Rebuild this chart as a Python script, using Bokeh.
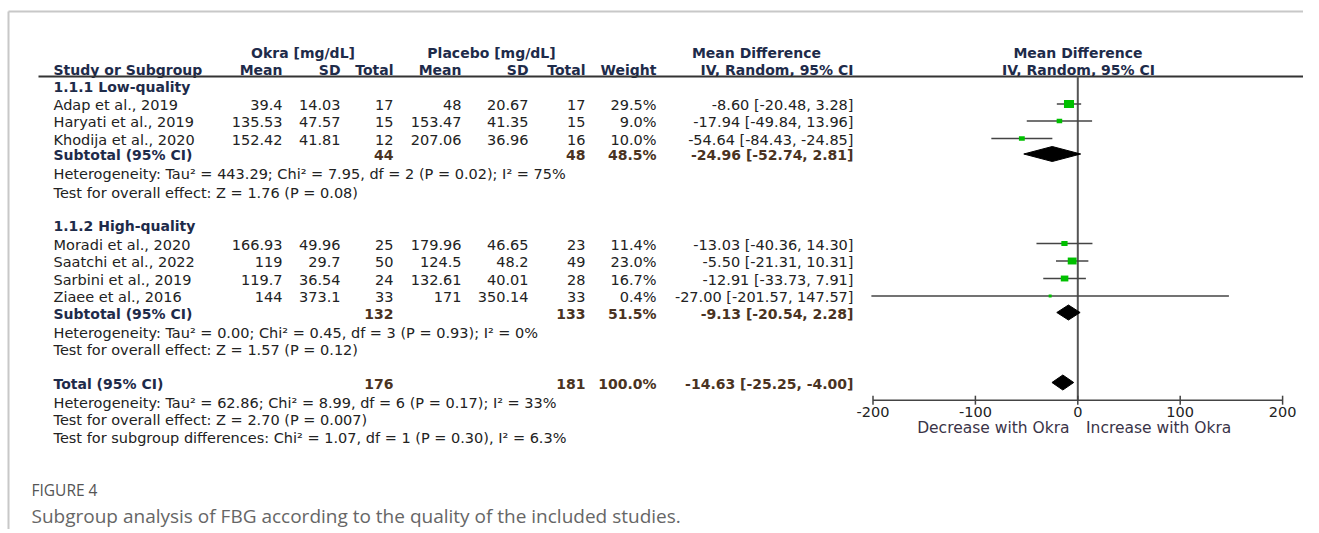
from math import sqrt
from bokeh.plotting import figure
from bokeh.models import Range1d, ColumnDataSource
from bokeh.core.properties import value
from bokeh.embed import file_html
from bokeh.resources import INLINE

# ---------------- data ----------------
studies = ["Adap et al., 2019", "Haryati et al., 2019", "Khodija et al., 2020",
           "Moradi et al., 2020", "Saatchi et al., 2022", "Sarbini et al., 2019", "Ziaee et al., 2016"]
okra_mean = [39.4, 135.53, 152.42, 166.93, 119, 119.7, 144]
okra_sd = [14.03, 47.57, 41.81, 49.96, 29.7, 36.54, 373.1]
okra_n = [17, 15, 12, 25, 50, 24, 33]
plc_mean = [48, 153.47, 207.06, 179.96, 124.5, 132.61, 171]
plc_sd = [20.67, 41.35, 36.96, 46.65, 48.2, 40.01, 350.14]
plc_n = [17, 15, 16, 23, 49, 28, 33]
weight = [29.5, 9.0, 10.0, 11.4, 23.0, 16.7, 0.4]
md = [-8.60, -17.94, -54.64, -13.03, -5.50, -12.91, -27.00]
md_lo = [-20.48, -49.84, -84.43, -40.36, -21.31, -33.73, -201.57]
md_hi = [3.28, 13.96, -24.85, 14.30, 10.31, 7.91, 147.57]

sections = ["1.1.1 Low-quality", "1.1.2 High-quality"]
sub_names = ["Subtotal (95% CI)", "Subtotal (95% CI)", "Total (95% CI)"]
sub_okra_n = [44, 132, 176]
sub_plc_n = [48, 133, 181]
sub_weight = [48.5, 51.5, 100.0]
sub_md = [-24.96, -9.13, -14.63]
sub_lo = [-52.74, -20.54, -25.25]
sub_hi = [2.81, 2.28, -4.00]
het_text = ["Heterogeneity: Tau\u00b2 = 443.29; Chi\u00b2 = 7.95, df = 2 (P = 0.02); I\u00b2 = 75%",
            "Heterogeneity: Tau\u00b2 = 0.00; Chi\u00b2 = 0.45, df = 3 (P = 0.93); I\u00b2 = 0%",
            "Heterogeneity: Tau\u00b2 = 62.86; Chi\u00b2 = 8.99, df = 6 (P = 0.17); I\u00b2 = 33%"]
overall_text = ["Test for overall effect: Z = 1.76 (P = 0.08)",
                "Test for overall effect: Z = 1.57 (P = 0.12)",
                "Test for overall effect: Z = 2.70 (P = 0.007)"]
subgroup_text = "Test for subgroup differences: Chi\u00b2 = 1.07, df = 1 (P = 0.30), I\u00b2 = 6.3%"
axis_ticks = [-200, -100, 0, 100, 200]
axis_left_label = "Decrease with Okra"
axis_right_label = "Increase with Okra"
fig_label = "FIGURE 4"
caption = "Subgroup analysis of FBG according to the quality of the included studies."

# ---------------- layout (page pixel positions) ----------------
O = 1                      # observed page position of the canvas origin
W, H = 1303, 529
study_y = [104.5, 121.5, 139, 244, 261.5, 279, 296.5]
section_y = [86, 225]
sub_y = [154.5, 313, 383]
het_y = [173, 332, 402]
overall_y = [192, 349, 419]
subgroup_y = 437
TXT_DY = 1.0

X_NAME = 54
X_OM, X_OSD, X_ON = 283, 341, 394
X_PM, X_PSD, X_PN = 462, 529, 586
X_W, X_CI = 657, 854
MD_ZERO_PX, MD_SCALE = 1078.3, 1.024
AXIS_Y = 400.7

REG = value("DejaVu Sans")
NAVY = "#1e2b4a"
SUBC = "#4a3322"
TEXT = "#222222"

p = figure(width=W, height=H, output_backend="svg", toolbar_location=None,
           x_range=Range1d(O, O + W), y_range=Range1d(O + H, O),
           x_axis_location=None, y_axis_location=None, min_border=0)
p.outline_line_color = None
p.grid.visible = False
p.background_fill_color = "white"
p.extra_x_ranges = {"md": Range1d((O - MD_ZERO_PX) / MD_SCALE, (O + W - MD_ZERO_PX) / MD_SCALE)}


def txt(xs, ys, texts, align="left", bold=False, color=TEXT, size="14.5px", font=REG):
    src = ColumnDataSource(dict(x=list(xs), y=[y + TXT_DY for y in ys], t=list(texts)))
    p.text(x="x", y="y", text="t", source=src, text_align=align, text_baseline="middle",
           text_font=font, text_font_size=size, text_color=color,
           text_font_style="bold" if bold else "normal")


def g(v):
    return f"{v:g}"


# frame lines
p.segment(x0=[9, 9], y0=[12, 12], x1=[O + W, 9], y1=[12, O + H], line_color="#c8c8c8", line_width=2)

# headers
BS = "14px"
txt([303.5, 492], [52, 52], ["Okra [mg/dL]", "Placebo [mg/dL]"], align="center", bold=True, color=NAVY, size=BS)
txt([757, 1078.5], [52, 52], ["Mean Difference", "Mean Difference"], align="center", bold=True, color=NAVY, size=BS)
txt([X_NAME], [69], ["Study or Subgroup"], bold=True, color=NAVY, size=BS)
txt([X_OM, X_OSD, X_ON, X_PM, X_PSD, X_PN, X_W, X_CI], [69] * 8,
    ["Mean", "SD", "Total", "Mean", "SD", "Total", "Weight", "IV, Random, 95% CI"],
    align="right", bold=True, color=NAVY, size=BS)
txt([1079], [69], ["IV, Random, 95% CI"], align="center", bold=True, color=NAVY, size=BS)
p.segment(x0=[39], y0=[77], x1=[O + W], y1=[77], line_color="#333333", line_width=2)

# section headers
txt([X_NAME] * 2, section_y, sections, bold=True, color=NAVY, size=BS)

# study rows
txt([X_NAME] * 7, study_y, studies)
txt([X_OM] * 7, study_y, [g(v) for v in okra_mean], align="right")
txt([X_OSD] * 7, study_y, [g(v) for v in okra_sd], align="right")
txt([X_ON] * 7, study_y, [str(v) for v in okra_n], align="right")
txt([X_PM] * 7, study_y, [g(v) for v in plc_mean], align="right")
txt([X_PSD] * 7, study_y, [g(v) for v in plc_sd], align="right")
txt([X_PN] * 7, study_y, [str(v) for v in plc_n], align="right")
txt([X_W] * 7, study_y, [f"{v:.1f}%" for v in weight], align="right")
txt([X_CI] * 7, study_y, [f"{m:.2f} [{a:.2f}, {b:.2f}]" for m, a, b in zip(md, md_lo, md_hi)], align="right")

# subtotal rows
txt([X_NAME] * 3, sub_y, sub_names, bold=True, color=NAVY, size=BS)
txt([X_ON] * 3, sub_y, [str(v) for v in sub_okra_n], align="right", bold=True, color=SUBC, size=BS)
txt([X_PN] * 3, sub_y, [str(v) for v in sub_plc_n], align="right", bold=True, color=SUBC, size=BS)
txt([X_W] * 3, sub_y, [f"{v:.1f}%" for v in sub_weight], align="right", bold=True, color=SUBC, size=BS)
txt([X_CI] * 3, sub_y, [f"{m:.2f} [{a:.2f}, {b:.2f}]" for m, a, b in zip(sub_md, sub_lo, sub_hi)],
    align="right", bold=True, color=SUBC, size=BS)

# statistics lines
txt([X_NAME] * 3, het_y, het_text)
txt([X_NAME] * 3, overall_y, overall_text)
txt([X_NAME], [subgroup_y], [subgroup_text])

# ---------------- forest plot ----------------
p.segment(x0=[0], y0=[77], x1=[0], y1=[AXIS_Y], x_range_name="md", line_color="#555555", line_width=2)
p.segment(x0=md_lo, y0=study_y, x1=md_hi, y1=study_y, x_range_name="md", line_color="#444444", line_width=1.5)
sq_w = [max(3.0, 1.85 * sqrt(w)) for w in weight]
sq_h = [max(3.0, 0.78 * s) for s in sq_w]
p.rect(x=md, y=study_y, width=sq_w, height=sq_h, width_units="screen", height_units="screen",
       x_range_name="md", fill_color="#00c000", line_color=None)
DH = 7.5
p.patches(xs=[[a, m, b, m] for a, m, b in zip(sub_lo, sub_md, sub_hi)],
          ys=[[y, y - DH, y, y + DH] for y in sub_y], x_range_name="md",
          fill_color="black", line_color="black")

# axis
p.segment(x0=[axis_ticks[0]], y0=[AXIS_Y], x1=[axis_ticks[-1]], y1=[AXIS_Y], x_range_name="md",
          line_color="#444444", line_width=1.5)
p.segment(x0=axis_ticks, y0=[AXIS_Y - 4.5] * 5, x1=axis_ticks, y1=[AXIS_Y + 4.5] * 5, x_range_name="md",
          line_color="#444444", line_width=1.5)
tsrc = ColumnDataSource(dict(x=axis_ticks, y=[412.5] * 5, t=[str(v) for v in axis_ticks]))
p.text(x="x", y="y", text="t", source=tsrc, x_range_name="md", text_align="center", text_baseline="middle",
       text_font=REG, text_font_size="14.5px", text_color="#222222")
lsrc = ColumnDataSource(dict(x=[-8, 8], y=[428, 428], t=[axis_left_label, axis_right_label],
                             a=["right", "left"]))
p.text(x="x", y="y", text="t", source=lsrc, x_range_name="md", text_align="a", text_baseline="middle",
       text_font=REG, text_font_size="15.5px", text_color="#3a3448")

# caption
txt([32], [489], [fig_label], color="#555555", size="15.5px", font=value("Open Sans"))
txt([32], [515], [caption], color="#666666", size="19px", font=value("Open Sans"))

open("out.html", "w").write(file_html(p, INLINE))
